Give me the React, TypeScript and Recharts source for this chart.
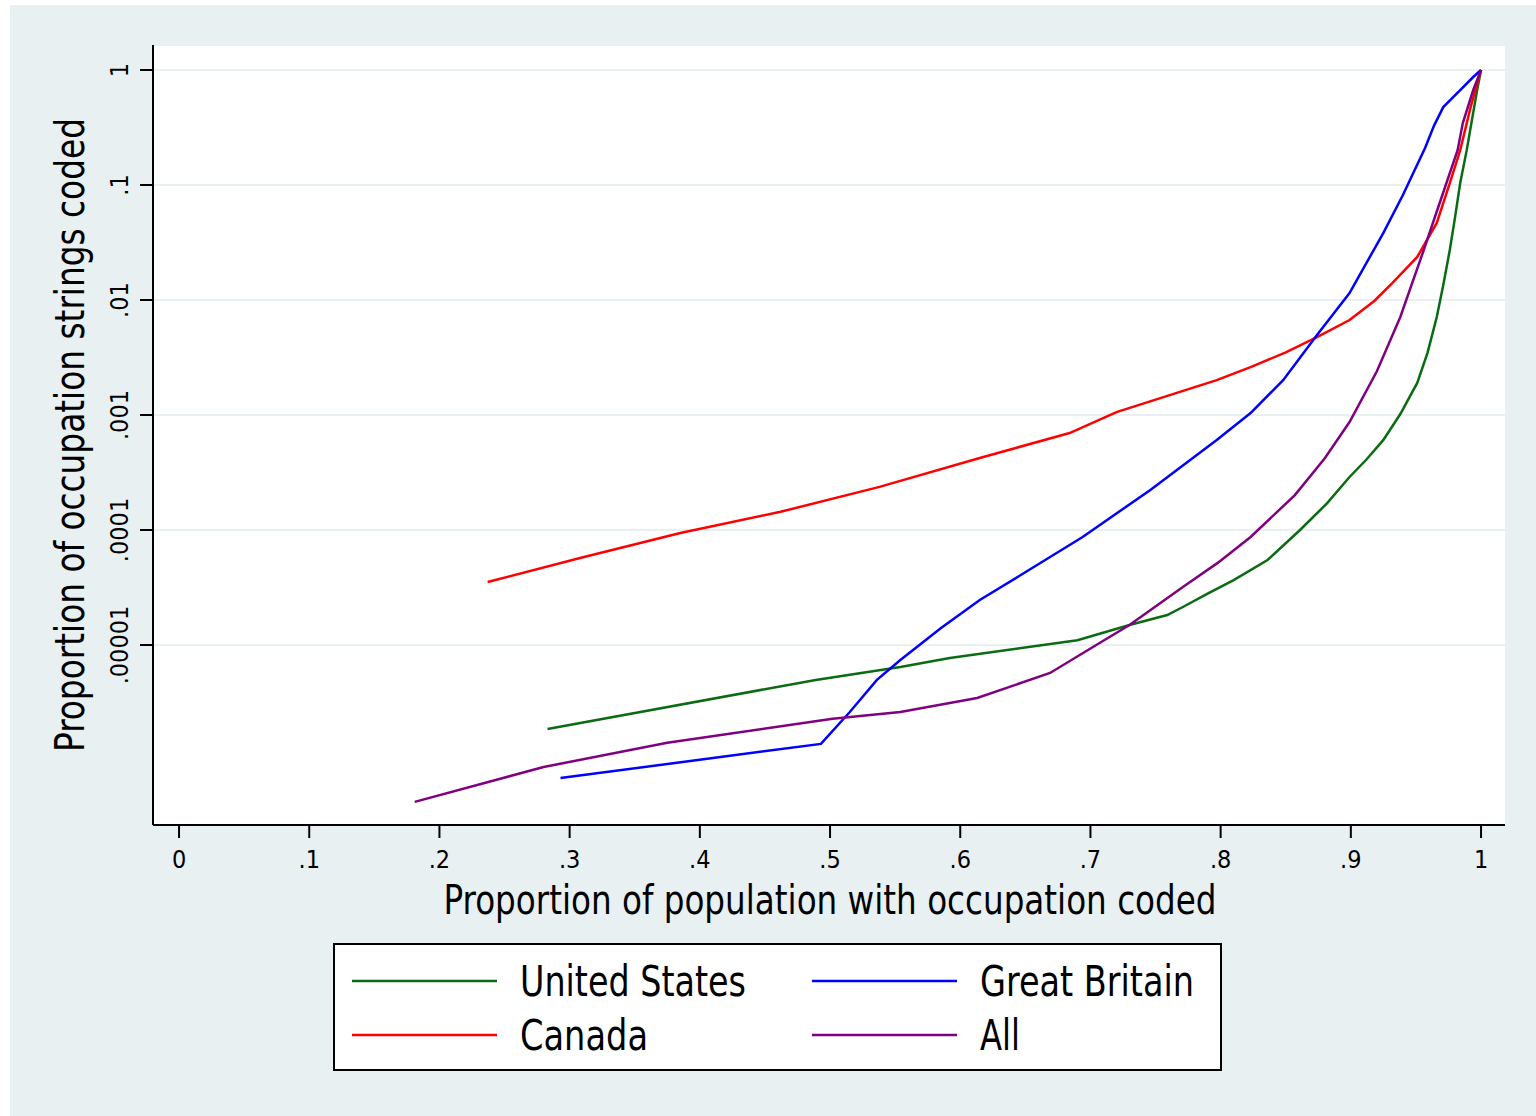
import { LineChart, Line, XAxis, YAxis, CartesianGrid } from "recharts"

// tick values and labels
const xTicks = [0, 0.1, 0.2, 0.3, 0.4, 0.5, 0.6, 0.7, 0.8, 0.9, 1]
const xTickLabels = ["0", ".1", ".2", ".3", ".4", ".5", ".6", ".7", ".8", ".9", "1"]
const yTicks = [0.00001, 0.0001, 0.001, 0.01, 0.1, 1]
const yTickLabels = [".00001", ".0001", ".001", ".01", ".1", "1"]

// United States
const usX = [0.283, 0.489, 0.554, 0.592, 0.690, 0.730, 0.759, 0.771, 0.790, 0.810, 0.836, 0.861, 0.882, 0.899, 0.912, 0.925, 0.938, 0.951, 0.959, 0.966, 0.971, 0.976, 0.980, 0.984, 0.989, 0.997, 1]
const usY = [1.86e-6, 4.97e-6, 6.44e-6, 7.71e-6, 1.1e-5, 1.49e-5, 1.82e-5, 2.14e-5, 2.8e-5, 3.67e-5, 5.48e-5, 1.0e-4, 1.72e-4, 2.89e-4, 4.1e-4, 6.07e-4, 1.02e-3, 1.9e-3, 3.5e-3, 7.11e-3, 1.35e-2, 0.0272, 0.052, 0.104, 0.201, 0.67, 1]

// Canada
const caX = [0.237, 0.308, 0.385, 0.462, 0.538, 0.615, 0.684, 0.720, 0.797, 0.823, 0.850, 0.874, 0.899, 0.918, 0.932, 0.951, 0.966, 0.976, 0.984, 0.992, 1]
const caY = [3.53e-5, 5.71e-5, 9.42e-5, 1.44e-4, 2.37e-4, 4.23e-4, 6.97e-4, 1.06e-3, 2.01e-3, 2.61e-3, 3.5e-3, 4.76e-3, 6.7e-3, 9.8e-3, 0.0141, 0.0237, 0.0468, 0.104, 0.201, 0.476, 1]

// Great Britain
const gbX = [0.293, 0.493, 0.515, 0.536, 0.554, 0.585, 0.615, 0.644, 0.694, 0.746, 0.797, 0.823, 0.848, 0.874, 0.899, 0.912, 0.925, 0.940, 0.957, 0.964, 0.971, 0.984, 0.994, 1]
const gbY = [6.97e-7, 1.38e-6, 2.6e-6, 4.97e-6, 7.41e-6, 1.4e-5, 2.46e-5, 3.9e-5, 8.69e-5, 2.23e-4, 6.07e-4, 1.04e-3, 2.01e-3, 4.97e-3, 0.0115, 0.021, 0.0383, 0.0818, 0.21, 0.33, 0.476, 0.67, 0.869, 1]

// All
const allX = [0.181, 0.280, 0.375, 0.502, 0.554, 0.613, 0.669, 0.707, 0.730, 0.771, 0.798, 0.823, 0.857, 0.880, 0.899, 0.920, 0.938, 0.956, 0.969, 0.982, 0.986, 0.994, 1]
const allY = [4.32e-7, 8.69e-7, 1.41e-6, 2.28e-6, 2.61e-6, 3.46e-6, 5.71e-6, 1.04e-5, 1.49e-5, 3.19e-5, 5.2e-5, 8.69e-5, 2.01e-4, 4.2e-4, 8.69e-4, 2.4e-3, 7.11e-3, 0.0272, 0.0741, 0.201, 0.346, 0.67, 1]

const toPoints = (xs: number[], ys: number[]) => xs.map((x, i) => ({ x, y: ys[i] }))

const series = [
  { name: "United States", color: "#0b6b12", data: toPoints(usX, usY) },
  { name: "Canada", color: "#ff0000", data: toPoints(caX, caY) },
  { name: "Great Britain", color: "#0000ff", data: toPoints(gbX, gbY) },
  { name: "All", color: "#800080", data: toPoints(allX, allY) },
]

const font = "'Liberation Sans Narrow', 'DejaVu Sans Condensed', 'Liberation Sans', sans-serif"
const bg = "#e9f0f2"

function XTick({ x, y, payload }: any) {
  const i = xTicks.indexOf(payload.value)
  return (
    <text x={x} y={y + 28} textAnchor="middle" fontFamily={font} fontSize={25} fill="#000">
      {xTickLabels[i]}
    </text>
  )
}

function YTick({ x, y, payload }: any) {
  const i = yTicks.indexOf(payload.value)
  const cx = x - 10
  return (
    <text
      x={cx}
      y={y}
      transform={`rotate(-90 ${cx} ${y})`}
      textAnchor="middle"
      fontFamily={font}
      fontSize={25}
      fill="#000"
    >
      {yTickLabels[i]}
    </text>
  )
}

export default function App() {
  return (
    <div style={{ position: "fixed", left: 0, top: 0, width: 1536, height: 1116, background: "#fff" }}>
      <div style={{ position: "absolute", left: 10, top: 5, width: 1526, height: 1111, background: bg }} />
      <div style={{ position: "absolute", left: 0, top: 0 }}>
        <LineChart width={1536} height={1116} margin={{ top: 45, right: 31, bottom: 251, left: 0 }}>
          <CartesianGrid vertical={false} fill="#ffffff" stroke={bg} strokeWidth={2} />
          <XAxis
            type="number"
            dataKey="x"
            domain={[-0.02, 1.0184]}
            ticks={xTicks}
            allowDataOverflow
            height={40}
            stroke="#000"
            strokeWidth={2}
            tickSize={13}
            tick={<XTick />}
          />
          <YAxis
            type="number"
            dataKey="y"
            scale="log"
            domain={[2.72e-7, 1.65]}
            ticks={yTicks}
            allowDataOverflow
            width={153}
            stroke="#000"
            strokeWidth={2}
            tickSize={13}
            tick={<YTick />}
          />
          {series.map((s) => (
            <Line
              key={s.name}
              data={s.data}
              dataKey="y"
              type="linear"
              stroke={s.color}
              strokeWidth={2.5}
              dot={false}
              isAnimationActive={false}
              name={s.name}
            />
          ))}
        </LineChart>
      </div>
      <svg width={1536} height={1116} style={{ position: "absolute", left: 0, top: 0, pointerEvents: "none" }}>
        <text
          x={84}
          y={435}
          transform="rotate(-90 84 435)"
          textAnchor="middle"
          fontFamily={font}
          fontSize={40}
          textLength={634}
          lengthAdjust="spacingAndGlyphs"
        >
          Proportion of occupation strings coded
        </text>
        <text
          x={830}
          y={914}
          textAnchor="middle"
          fontFamily={font}
          fontSize={40}
          textLength={773}
          lengthAdjust="spacingAndGlyphs"
        >
          Proportion of population with occupation coded
        </text>
        <rect x={334} y={944} width={887} height={126} fill="#fff" stroke="#000" strokeWidth={2} />
        {series.map((s, i) => {
          const col = i === 0 || i === 1 ? 0 : 1
          const row = i === 0 || i === 2 ? 0 : 1
          const lx = col === 0 ? 352 : 812
          const ly = row === 0 ? 981 : 1035
          const widths: Record<string, number> = { "United States": 226, Canada: 128, "Great Britain": 214, All: 40 }
          return (
            <g key={s.name}>
              <line x1={lx} x2={lx + 145} y1={ly} y2={ly} stroke={s.color} strokeWidth={2.5} />
              <text
                x={lx + 168}
                y={ly + 15}
                fontFamily={font}
                fontSize={42}
                textLength={widths[s.name]}
                lengthAdjust="spacingAndGlyphs"
              >
                {s.name}
              </text>
            </g>
          )
        })}
      </svg>
    </div>
  )
}
